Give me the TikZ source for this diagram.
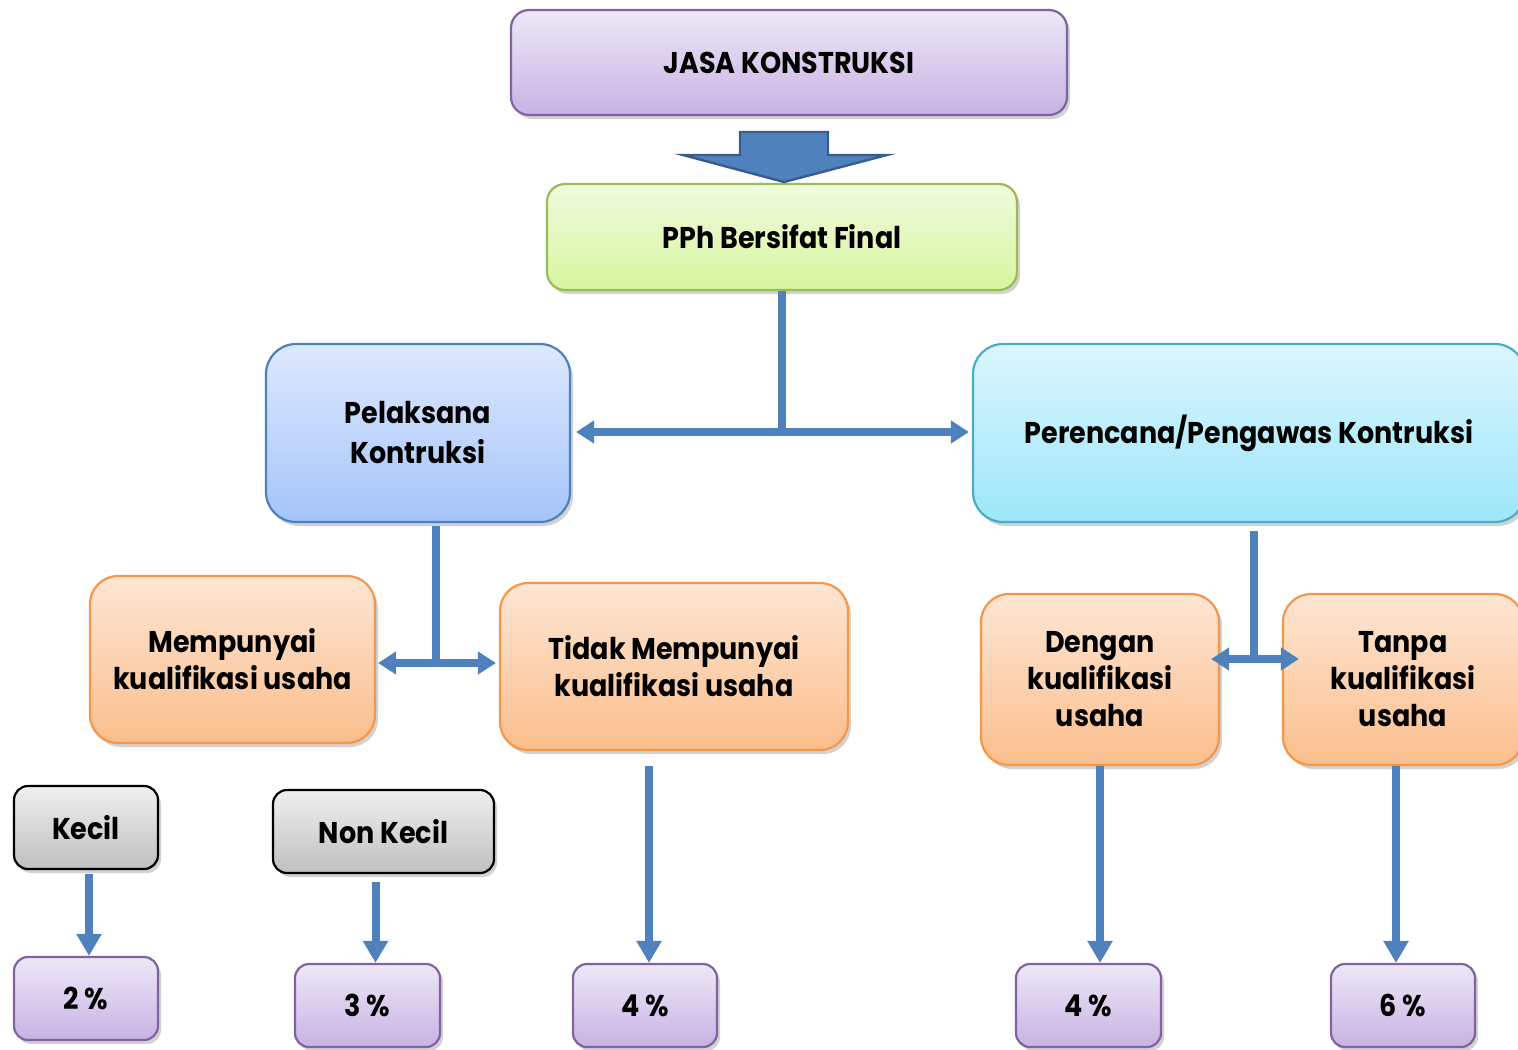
\documentclass[tikz,border=0pt]{standalone}
\usepackage{fontspec}
\setmainfont{Poppins}[FakeStretch=0.9]
\usetikzlibrary{positioning,arrows.meta,shadows}

\definecolor{arrowblue}{HTML}{4F81BD}
\definecolor{arrowedge}{HTML}{385D8A}

\tikzset{
  box/.style={rectangle, rounded corners=#1, line width=1.1pt, align=center, inner sep=0pt,
    font=\fontsize{15}{18.5}\selectfont\bfseries,
    drop shadow={shadow xshift=1.5pt, shadow yshift=-2pt, opacity=0.25, fill=black!70}},
  box/.default=9pt,
  purplebox/.style={box=#1, draw={rgb,255:red,128;green,100;blue,162}, top color={rgb,255:red,237;green,232;blue,247}, bottom color={rgb,255:red,200;green,178;blue,228}},
  purplebox/.default=7pt,
  greenbox/.style={box, draw={rgb,255:red,155;green,187;blue,89}, top color={rgb,255:red,241;green,250;blue,222}, bottom color={rgb,255:red,214;green,246;blue,158}},
  bluebox/.style={box=15pt, draw={rgb,255:red,79;green,129;blue,189}, top color={rgb,255:red,222;green,233;blue,253}, bottom color={rgb,255:red,164;green,196;blue,250}},
  cyanbox/.style={box=15pt, draw={rgb,255:red,75;green,172;blue,198}, top color={rgb,255:red,218;green,246;blue,253}, bottom color={rgb,255:red,158;green,230;blue,250}},
  orangebox/.style={box=14pt, draw={rgb,255:red,247;green,150;blue,70}, top color={rgb,255:red,253;green,230;blue,212}, bottom color={rgb,255:red,251;green,190;blue,140}},
  graybox/.style={box=7pt, draw=black, top color=black!6, bottom color=black!25},
  link/.style={draw=arrowblue, line width=4pt},
  down/.style={link, -{Triangle[length=11pt,width=12pt]}},
  both/.style={link, {Triangle[length=9pt,width=11pt]}-{Triangle[length=9pt,width=11pt]}}
}

\begin{document}
\begin{tikzpicture}[x=0.5pt,y=-0.5pt]
\useasboundingbox (0,0) rectangle (1518,1049);

% top of the chart
\node[purplebox=9pt, minimum width=278pt, minimum height=52.5pt] (jasa) at (789,62.5) {JASA KONSTRUKSI};
\node[greenbox, minimum width=235pt, minimum height=53pt] (pph) at (782,237) {PPh Bersifat Final};
\fill[arrowblue, draw=arrowedge, line width=1.2pt] (740,132) -- (828,132) -- (828,155) -- (887,155)
  -- (784,182) -- (683,155) -- (740,155) -- cycle;

% second level
\node[bluebox, minimum width=152pt, minimum height=89pt, font=\fontsize{15}{20}\selectfont\bfseries] (pel) at (418,433) {Pelaksana\\Kontruksi};
\node[cyanbox, minimum width=276pt, minimum height=89pt] (per) at (1249,433) {Perencana/Pengawas Kontruksi};
\coordinate (j1) at (782,432);
\draw[link] (pph.south) -- (j1);
\draw[both] ([xshift=2.5pt]pel.east |- j1) -- ([xshift=-1.5pt]per.west |- j1);

% third level
\node[orangebox, minimum width=142.5pt, minimum height=83.5pt] (mem) at (232.5,659.5) {Mempunyai\\kualifikasi usaha};
\node[orangebox, minimum width=174pt, minimum height=83.5pt] (tid) at (674,666.5) {Tidak Mempunyai\\kualifikasi usaha};
\node[orangebox, minimum width=119pt, minimum height=85.5pt] (den) at (1100,679.5) {Dengan\\kualifikasi\\usaha};
\node[orangebox, minimum width=120pt, minimum height=85.5pt] (tan) at (1403,679.5) {Tanpa\\kualifikasi\\usaha};
\coordinate (j2) at (436,663);
\coordinate (j3) at (1254,659);
\draw[link] ([xshift=9pt,yshift=-1.5pt]pel.south) -- (j2);
\draw[both] ([xshift=1pt]mem.east |- j2) -- ([xshift=-1.5pt]tid.west |- j2);
\draw[link] ([xshift=2.5pt,yshift=-4pt]per.south) -- (j3);
\draw[both] ([xshift=-4.5pt]den.east |- j3) -- ([xshift=8.5pt]tan.west |- j3);

% size of the firm
\node[graybox, minimum width=72pt, minimum height=41.5pt] (kec) at (86,827.5) {Kecil};
\node[graybox, minimum width=110.5pt, minimum height=41.5pt] (non) at (383.5,831.5) {Non Kecil};

% rates
\node[purplebox, minimum width=72pt, minimum height=41.5pt] (p2) at (86,998.5) {2 \%};
\node[purplebox, minimum width=72.5pt, minimum height=41.5pt] (p3) at (367.5,1005.5) {3 \%};
\node[purplebox, minimum width=72pt, minimum height=41.5pt] (p4a) at (645,1005.5) {4 \%};
\node[purplebox, minimum width=72.5pt, minimum height=41.5pt] (p4b) at (1088.5,1005.5) {4 \%};
\node[purplebox, minimum width=72pt, minimum height=41.5pt] (p6) at (1403,1005.5) {6 \%};

\draw[down] ([xshift=1.5pt,yshift=-2pt]kec.south) -- ([xshift=1.5pt]kec.south |- p2.north);
\draw[down] ([xshift=-4pt,yshift=-4pt]non.south) -- ([xshift=-4pt]non.south |- p3.north);
\draw[down] ([xshift=-12.5pt,yshift=-7.5pt]tid.south) -- ([xshift=-12.5pt]tid.south |- p4a.north);
\draw[down] (den.south) -- (den.south |- p4b.north);
\draw[down] ([xshift=-3.5pt]tan.south) -- ([xshift=-3.5pt]tan.south |- p6.north);
\end{tikzpicture}
\end{document}
